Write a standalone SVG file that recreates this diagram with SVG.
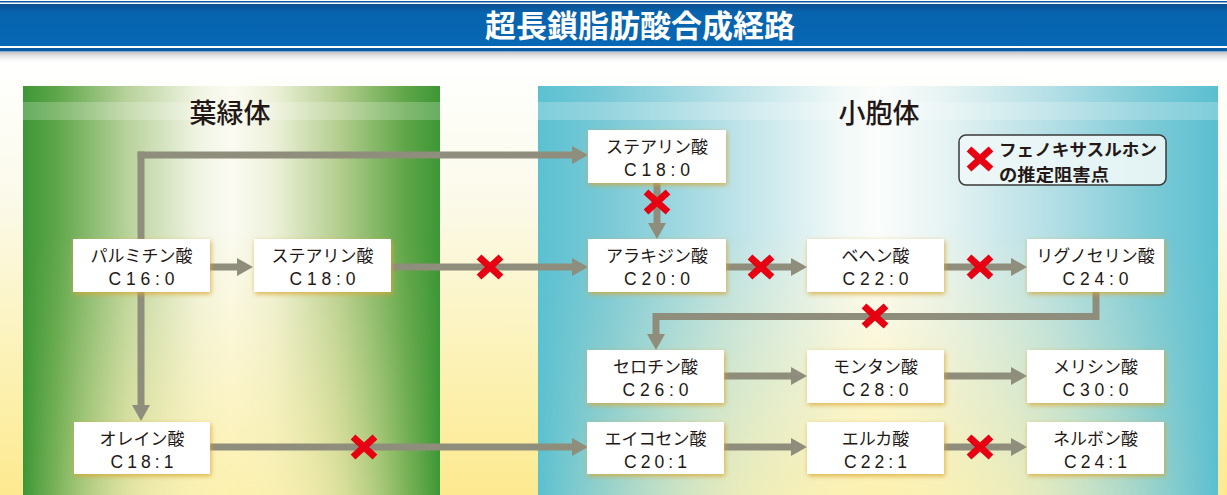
<svg xmlns="http://www.w3.org/2000/svg" width="1227" height="495" viewBox="0 0 1227 495">
<style>
.ff{font-family:"Noto Sans CJK JP","Noto Sans",sans-serif}
.box{fill:#ffffff;filter:url(#glow)}
.t1{font-family:"Noto Sans CJK JP","Noto Sans",sans-serif;font-size:17px;fill:#231815;text-anchor:middle}
.t2{font-family:"Liberation Sans",Arial,sans-serif;font-size:17.5px;fill:#231815;text-anchor:middle}
.con{fill:none;stroke:#8f8d7b;stroke-width:7;stroke-linejoin:miter}
.ar{marker-end:url(#ah)}
.xx{fill:none;stroke:#e60012;stroke-width:7;stroke-linecap:butt}
.ptitle{font-family:"Noto Sans CJK JP","Noto Sans",sans-serif;font-size:27px;font-weight:500;fill:#231815;text-anchor:middle}
</style>
<defs>
<linearGradient id="bg" x1="0" y1="0" x2="0" y2="495" gradientUnits="userSpaceOnUse">
<stop offset="0.12" stop-color="#ffffff"/>
<stop offset="0.4" stop-color="#fbfaea"/>
<stop offset="0.8" stop-color="#fcf0ac"/>
<stop offset="1" stop-color="#fde98f"/>
</linearGradient>
<linearGradient id="bar" x1="0" y1="4" x2="0" y2="46" gradientUnits="userSpaceOnUse">
<stop offset="0" stop-color="#0b5090"/>
<stop offset="0.2" stop-color="#0763ad"/>
<stop offset="1" stop-color="#0768b5"/>
</linearGradient>
<linearGradient id="shd" x1="0" y1="52" x2="0" y2="64" gradientUnits="userSpaceOnUse">
<stop offset="0" stop-color="#c4c4c4"/>
<stop offset="1" stop-color="#ffffff" stop-opacity="0"/>
</linearGradient>
<linearGradient id="gL" x1="0" y1="0" x2="1" y2="0">
<stop offset="0" stop-color="#3d9736"/>
<stop offset="0.08" stop-color="#5ea649"/>
<stop offset="0.25" stop-color="#b8d29b"/>
<stop offset="0.42" stop-color="#f0f4e3"/>
<stop offset="0.5" stop-color="#fbfbf2"/>
<stop offset="0.6" stop-color="#edf1da"/>
<stop offset="0.76" stop-color="#b3cd8e"/>
<stop offset="0.92" stop-color="#5ea547"/>
<stop offset="1" stop-color="#3d9736"/>
</linearGradient>
<linearGradient id="gR" x1="0" y1="0" x2="1" y2="0">
<stop offset="0" stop-color="#5bc1d1"/>
<stop offset="0.1" stop-color="#79c9d6"/>
<stop offset="0.3" stop-color="#c0e4e9"/>
<stop offset="0.45" stop-color="#f2f9f8"/>
<stop offset="0.5" stop-color="#fbfdfb"/>
<stop offset="0.6" stop-color="#e6f3f3"/>
<stop offset="0.76" stop-color="#b2dee5"/>
<stop offset="0.9" stop-color="#7ccad6"/>
<stop offset="1" stop-color="#5bbfd0"/>
</linearGradient>
<linearGradient id="yh" x1="0" y1="0" x2="1" y2="0">
<stop offset="0" stop-color="#fcefa6" stop-opacity="0"/>
<stop offset="0.3" stop-color="#fcefa6" stop-opacity="0.7"/>
<stop offset="0.5" stop-color="#fcefa6" stop-opacity="0.9"/>
<stop offset="0.7" stop-color="#fcefa6" stop-opacity="0.7"/>
<stop offset="1" stop-color="#fcefa6" stop-opacity="0"/>
</linearGradient>
<linearGradient id="vm" x1="0" y1="86" x2="0" y2="495" gradientUnits="userSpaceOnUse">
<stop offset="0.35" stop-color="#000"/>
<stop offset="1" stop-color="#fff"/>
</linearGradient>
<mask id="mk" maskUnits="userSpaceOnUse" x="0" y="0" width="1227" height="495">
<rect x="0" y="86" width="1227" height="409" fill="url(#vm)"/>
</mask>
<filter id="glow" x="-20%" y="-30%" width="140%" height="160%">
<feGaussianBlur in="SourceAlpha" stdDeviation="2.5" result="b"/>
<feOffset in="b" dx="1" dy="1.5" result="o"/>
<feFlood flood-color="#d8a632" flood-opacity="0.85"/>
<feComposite in2="o" operator="in" result="g"/>
<feMerge><feMergeNode in="g"/><feMergeNode in="SourceGraphic"/></feMerge>
</filter>
<marker id="ah" markerUnits="userSpaceOnUse" markerWidth="16" markerHeight="18" viewBox="0 0 16 18" refX="1" refY="9" orient="auto">
<path d="M0,0 L16,9 L0,18 Z" fill="#8f8d7b"/>
</marker>
<path id="xm" d="M-11,-10 L11,10 M11,-10 L-11,10"/>
</defs>

<rect x="0" y="0" width="1227" height="495" fill="url(#bg)"/>

<g id="titlebar">
<rect x="0" y="1" width="1227" height="1.5" fill="#0a5ba3"/>
<rect x="0" y="4" width="1227" height="42" fill="url(#bar)"/>
<rect x="0" y="48" width="1227" height="3.5" fill="#0b5ba2"/>
<rect x="0" y="52" width="1227" height="12" fill="url(#shd)"/>
<text x="640" y="37" class="ff" font-size="31" font-weight="bold" fill="#ffffff" text-anchor="middle">超長鎖脂肪酸合成経路</text>
</g>

<g id="panel-chloroplast">
<rect x="23" y="86" width="417" height="409" fill="url(#gL)"/>
<rect x="23" y="86" width="417" height="409" fill="url(#yh)" mask="url(#mk)"/>
<rect x="23" y="102" width="417" height="18" fill="#ffffff" opacity="0.22"/>
<text x="230" y="123" class="ptitle">葉緑体</text>
</g>

<g id="panel-er">
<rect x="538" y="86" width="680" height="409" fill="url(#gR)"/>
<rect x="538" y="86" width="680" height="409" fill="url(#yh)" mask="url(#mk)"/>
<rect x="538" y="102" width="680" height="18" fill="#ffffff" opacity="0.22"/>
<text x="879" y="123" class="ptitle">小胞体</text>
</g>

<g id="connectors">
<line class="con ar" x1="209" y1="267" x2="238" y2="267"/>
<line class="con ar" x1="141" y1="151.5" x2="141" y2="406"/>
<line class="con ar" x1="137.5" y1="155" x2="573" y2="155"/>
<line class="con ar" x1="391" y1="267" x2="573" y2="267"/>
<line class="con ar" x1="657" y1="183" x2="657" y2="224"/>
<line class="con ar" x1="725" y1="267" x2="792" y2="267"/>
<line class="con ar" x1="944" y1="267" x2="1012" y2="267"/>
<path class="con ar" d="M1096,292 V316.5 H656 V335"/>
<line class="con ar" x1="724" y1="376" x2="792" y2="376"/>
<line class="con ar" x1="944" y1="376" x2="1012" y2="376"/>
<line class="con ar" x1="210" y1="447" x2="573" y2="447"/>
<line class="con ar" x1="724" y1="447" x2="792" y2="447"/>
<line class="con ar" x1="944" y1="447" x2="1012" y2="447"/>
</g>

<g id="inhibition-marks">
<use href="#xm" class="xx" x="490" y="267"/>
<use href="#xm" class="xx" x="657" y="202"/>
<use href="#xm" class="xx" x="761" y="267"/>
<use href="#xm" class="xx" x="980" y="267"/>
<use href="#xm" class="xx" x="875" y="316"/>
<use href="#xm" class="xx" x="364" y="447"/>
<use href="#xm" class="xx" x="980" y="447"/>
</g>

<g id="n-palmitic"><rect class="box" x="73" y="239" width="137" height="53"/><text class="t1" x="141.5" y="262">パルミチン酸</text><text class="t2" x="141.5" y="285" textLength="66" lengthAdjust="spacing">C16:0</text></g>
<g id="n-stearic-l"><rect class="box" x="254" y="239" width="137" height="53"/><text class="t1" x="322.5" y="262">ステアリン酸</text><text class="t2" x="322.5" y="285" textLength="66" lengthAdjust="spacing">C18:0</text></g>
<g id="n-oleic"><rect class="box" x="74" y="422" width="136" height="52"/><text class="t1" x="142" y="445">オレイン酸</text><text class="t2" x="142" y="468" textLength="63" lengthAdjust="spacing">C18:1</text></g>
<g id="n-stearic-r"><rect class="box" x="588" y="130" width="138" height="53"/><text class="t1" x="657" y="153">ステアリン酸</text><text class="t2" x="657" y="176" textLength="66" lengthAdjust="spacing">C18:0</text></g>
<g id="n-arachidic"><rect class="box" x="588" y="239" width="138" height="53"/><text class="t1" x="657" y="262">アラキジン酸</text><text class="t2" x="657" y="285" textLength="66" lengthAdjust="spacing">C20:0</text></g>
<g id="n-behenic"><rect class="box" x="807" y="239" width="137" height="53"/><text class="t1" x="875.5" y="262">ベヘン酸</text><text class="t2" x="875.5" y="285" textLength="66" lengthAdjust="spacing">C22:0</text></g>
<g id="n-lignoceric"><rect class="box" x="1027" y="239" width="137" height="53"/><text class="t1" x="1095.5" y="262">リグノセリン酸</text><text class="t2" x="1095.5" y="285" textLength="66" lengthAdjust="spacing">C24:0</text></g>
<g id="n-cerotic"><rect class="box" x="587" y="350" width="137" height="53"/><text class="t1" x="655.5" y="373">セロチン酸</text><text class="t2" x="655.5" y="396" textLength="66" lengthAdjust="spacing">C26:0</text></g>
<g id="n-montanic"><rect class="box" x="807" y="350" width="137" height="53"/><text class="t1" x="875.5" y="373">モンタン酸</text><text class="t2" x="875.5" y="396" textLength="66" lengthAdjust="spacing">C28:0</text></g>
<g id="n-melissic"><rect class="box" x="1027" y="350" width="137" height="53"/><text class="t1" x="1095.5" y="373">メリシン酸</text><text class="t2" x="1095.5" y="396" textLength="66" lengthAdjust="spacing">C30:0</text></g>
<g id="n-eicosenoic"><rect class="box" x="587" y="422" width="137" height="52"/><text class="t1" x="655.5" y="445">エイコセン酸</text><text class="t2" x="655.5" y="468" textLength="63" lengthAdjust="spacing">C20:1</text></g>
<g id="n-erucic"><rect class="box" x="807" y="422" width="137" height="52"/><text class="t1" x="875.5" y="445">エルカ酸</text><text class="t2" x="875.5" y="468" textLength="63" lengthAdjust="spacing">C22:1</text></g>
<g id="n-nervonic"><rect class="box" x="1027" y="422" width="137" height="52"/><text class="t1" x="1095.5" y="445">ネルボン酸</text><text class="t2" x="1095.5" y="468" textLength="63" lengthAdjust="spacing">C24:1</text></g>

<g id="legend">
<rect x="959" y="135" width="207" height="50" rx="7" ry="7" fill="#eef7f7" fill-opacity="0.9" stroke="#3a3a3a" stroke-width="1.5"/>
<use href="#xm" class="xx" x="980" y="159"/>
<text x="999" y="156" class="ff" font-size="16.5" font-weight="bold" fill="#231815" textLength="158" lengthAdjust="spacingAndGlyphs">フェノキサスルホン</text>
<text x="999" y="180.5" class="ff" font-size="16.5" font-weight="bold" fill="#231815" textLength="110" lengthAdjust="spacingAndGlyphs">の推定阻害点</text>
</g>
</svg>
